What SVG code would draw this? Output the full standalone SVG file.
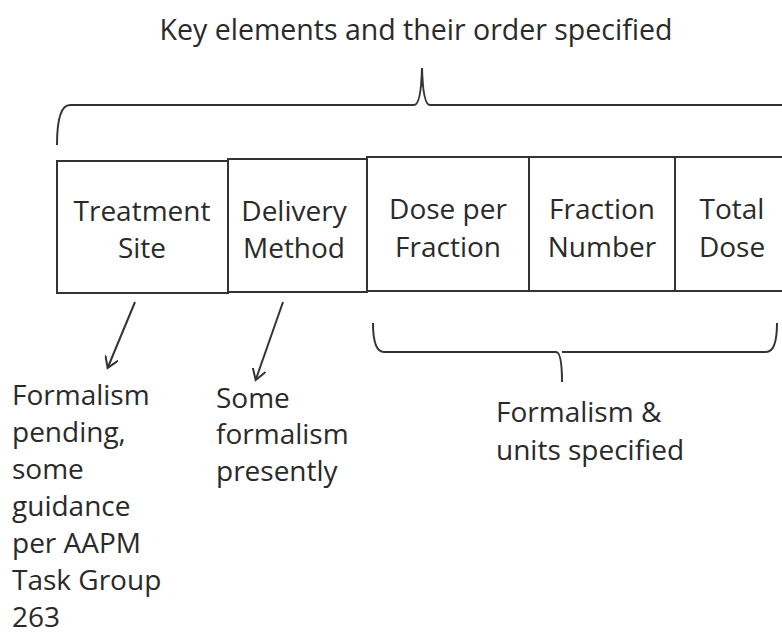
<svg xmlns="http://www.w3.org/2000/svg" width="782" height="637" viewBox="0 0 782 637">
<style>
text{font-family:"Open Sans","Liberation Sans",sans-serif;font-size:28px;fill:#2a2a2a}
.c{text-anchor:middle}
.t{font-size:28.5px}
.box{fill:#fff;stroke:#333;stroke-width:2}
.ln{fill:none;stroke:#333;stroke-width:2}
</style>
<defs>
<marker id="ah" markerWidth="14" markerHeight="14" refX="10" refY="7" orient="auto" markerUnits="userSpaceOnUse">
<path d="M0,0 L11,7 L0,14" fill="none" stroke="#333" stroke-width="2"/>
</marker>
</defs>
<text class="c t" x="416" y="40">Key elements and their order specified</text>
<g id="connectors">
<path class="ln" d="M57,145 Q57,105 70,105 L414,105 Q421,105 422,68 Q423,105 430,105 L782,105"/>
<path class="ln" d="M373,323 Q373,352 384,352 L556,352 Q562,352 562,382 M562,352 Q562,352 568,352 L766,352 Q777,352 777,323"/>
<line class="ln" x1="135" y1="302" x2="108" y2="367" marker-end="url(#ah)"/>
<line class="ln" x1="283" y1="302" x2="256" y2="379" marker-end="url(#ah)"/>
</g>
<g id="treatment-site">
<rect class="box" x="57" y="161" width="171" height="132"/>
<text class="c" x="142" y="221">Treatment</text>
<text class="c" x="142" y="258">Site</text>
</g>
<g id="delivery-method">
<rect class="box" x="228" y="159" width="139" height="133"/>
<text class="c" x="294" y="221">Delivery</text>
<text class="c" x="294" y="258">Method</text>
</g>
<g id="dose-per-fraction">
<rect class="box" x="367" y="157" width="162" height="134"/>
<text class="c" x="448" y="219">Dose per</text>
<text class="c" x="448" y="257">Fraction</text>
</g>
<g id="fraction-number">
<rect class="box" x="529" y="157" width="146" height="134"/>
<text class="c" x="602" y="219">Fraction</text>
<text class="c" x="602" y="257">Number</text>
</g>
<g id="total-dose">
<rect class="box" x="675" y="157" width="110" height="134"/>
<text class="c" x="732" y="219">Total</text>
<text class="c" x="732" y="257">Dose</text>
</g>
<g id="note-treatment">
<text x="12" y="405">Formalism</text>
<text x="12" y="442">pending,</text>
<text x="12" y="479">some</text>
<text x="12" y="516">guidance</text>
<text x="12" y="553">per AAPM</text>
<text x="12" y="590">Task Group</text>
<text x="12" y="627">263</text>
</g>
<g id="note-delivery">
<text x="216" y="408">Some</text>
<text x="216" y="444">formalism</text>
<text x="216" y="481">presently</text>
</g>
<g id="note-dose">
<text x="496" y="422">Formalism &amp;</text>
<text x="496" y="460">units specified</text>
</g>
</svg>
